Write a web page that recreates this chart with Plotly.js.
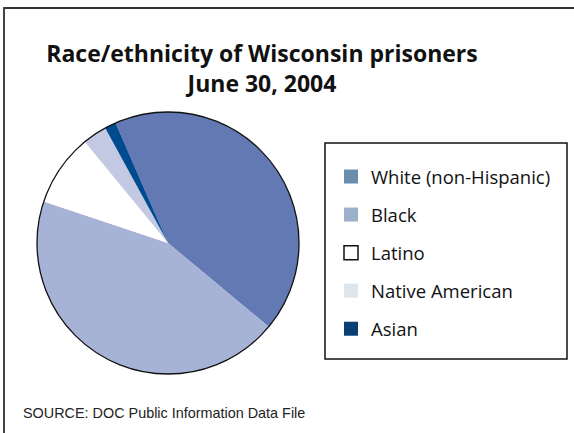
<!DOCTYPE html>
<html>
<head>
<meta charset="utf-8">
<script src="https://cdn.plot.ly/plotly-3.0.1.min.js"></script>
<style>html,body{margin:0;padding:0;background:#fff;}#chart{width:574px;height:433px;}</style>
</head>
<body>
<div id="chart"></div>
<script>
const categories = ['White (non-Hispanic)', 'Black', 'Latino', 'Native American', 'Asian'];
const shares = [42.6, 44.1, 8.9, 3.0, 1.4];
const sliceColors = ['#6279b3', '#a7b3d6', '#ffffff', '#c3c9e3', '#004a8f'];
const legendColors = ['#6a8cad', '#9cb1c9', '#ffffff', '#dde5ed', '#0a3f73'];
const titleText = 'Race/ethnicity of Wisconsin prisoners<br>June 30, 2004';
const sourceText = 'SOURCE: DOC Public Information Data File';

const W = 574, H = 433;
const cx = 168, cy = 243, R = 131;

const traces = [{
  type: 'pie',
  labels: categories,
  values: shares,
  sort: false,
  direction: 'clockwise',
  rotation: -23.6,
  textinfo: 'none',
  hoverinfo: 'label+percent',
  marker: {colors: sliceColors, line: {width: 0}},
  showlegend: false,
  domain: {x: [(cx - R) / W, (cx + R) / W], y: [1 - (cy + R) / H, 1 - (cy - R) / H]}
}];

categories.forEach((c, i) => {
  traces.push({
    type: 'scatter', mode: 'markers', x: [null], y: [null], name: c,
    legendgroup: 'g' + i,
    marker: {symbol: 'square', size: 14, color: legendColors[i],
             line: {color: i === 2 ? '#111' : legendColors[i], width: i === 2 ? 1.5 : 0}},
    hoverinfo: 'skip'
  });
});

const layout = {
  width: W, height: H,
  margin: {l: 0, r: 0, t: 0, b: 0},
  paper_bgcolor: '#ffffff', plot_bgcolor: '#ffffff',
  xaxis: {visible: false, range: [0, 1]},
  yaxis: {visible: false, range: [0, 1]},
  title: {
    text: titleText,
    font: {family: 'Open Sans, sans-serif', size: 23, color: '#111', weight: 'bold'},
    x: 262 / W, xanchor: 'center', xref: 'paper',
    y: 1 - 62 / H, yanchor: 'middle', yref: 'container'
  },
  showlegend: true,
  legend: {
    x: 331 / W, xanchor: 'left', y: 1 - 158 / H, yanchor: 'top',
    bgcolor: 'rgba(0,0,0,0)', borderwidth: 0,
    font: {family: 'Open Sans, sans-serif', size: 18.5, color: '#111'},
    tracegroupgap: 11, traceorder: 'grouped'
  },
  annotations: [{
    text: sourceText, xref: 'paper', yref: 'paper',
    x: 21 / W, y: 1 - 413 / H, xanchor: 'left', yanchor: 'middle', showarrow: false,
    font: {family: 'Liberation Sans, Arial, sans-serif', size: 14.4, color: '#222'}
  }],
  shapes: [
    {type: 'circle', xref: 'paper', yref: 'paper',
     x0: (cx - R) / W, x1: (cx + R) / W, y0: 1 - (cy + R) / H, y1: 1 - (cy - R) / H,
     line: {color: '#111', width: 1.3}},
    {type: 'rect', xref: 'paper', yref: 'paper',
     x0: 325 / W, x1: 567 / W, y0: 1 - 359 / H, y1: 1 - 143 / H,
     line: {color: '#111', width: 1.5}},
    {type: 'line', xref: 'paper', yref: 'paper',
     x0: 3 / W, x1: 1, y0: 1 - 8 / H, y1: 1 - 8 / H, line: {color: '#333', width: 2}},
    {type: 'line', xref: 'paper', yref: 'paper',
     x0: 4 / W, x1: 4 / W, y0: 0, y1: 1 - 7 / H, line: {color: '#444', width: 2}}
  ]
};

Plotly.newPlot('chart', traces, layout, {displayModeBar: false, staticPlot: true});
</script>
</body>
</html>
